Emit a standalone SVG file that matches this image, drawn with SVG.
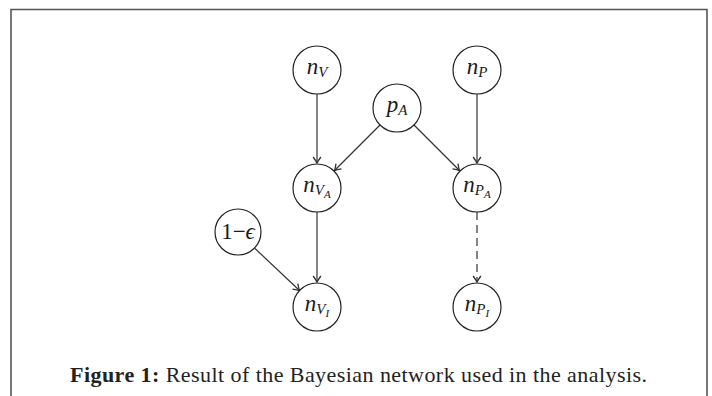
<svg xmlns="http://www.w3.org/2000/svg" width="712" height="396" viewBox="0 0 712 396">
<style>
.node circle{fill:#fff;stroke:#222;stroke-width:1.2}
.lbl{font-family:"Liberation Serif","DejaVu Serif",serif;font-style:italic;font-size:23px;fill:#1a1a1a;text-anchor:middle}
.sub{font-size:15px}
.sub2{font-size:11px}
.up{font-style:normal}
.edge{stroke:#333;stroke-width:1.2;fill:none}
.dash{stroke-dasharray:8 5}
.cap{font-family:"Liberation Serif","DejaVu Serif",serif;font-size:22px;fill:#222;text-anchor:middle}
</style>
<defs>
<marker id="arr" markerUnits="userSpaceOnUse" markerWidth="12" markerHeight="12" viewBox="-7 -5 8 10" refX="0" refY="0" orient="auto">
<path d="M-5,-3.2 Q-1.6,-0.8 0,0 Q-1.6,0.8 -5,3.2" fill="none" stroke="#333" stroke-width="1.1"/>
</marker>
</defs>
<rect width="712" height="396" fill="#fff"/>
<path d="M11,396 V9.5 H707 V396" fill="none" stroke="#555" stroke-width="1.6"/>
<g id="edges">
<line class="edge" x1="317" y1="94" x2="317" y2="163" marker-end="url(#arr)"/>
<line class="edge" x1="477" y1="94" x2="477" y2="163" marker-end="url(#arr)"/>
<line class="edge" x1="380" y1="125" x2="334.5" y2="170.5" marker-end="url(#arr)"/>
<line class="edge" x1="414" y1="125" x2="459.5" y2="170.5" marker-end="url(#arr)"/>
<line class="edge" x1="317" y1="212" x2="317" y2="282" marker-end="url(#arr)"/>
<line class="edge" x1="255" y1="248.5" x2="299.5" y2="290.5" marker-end="url(#arr)"/>
<line class="edge dash" x1="477" y1="212" x2="477" y2="282" marker-end="url(#arr)"/>
</g>
<g id="nV" class="node"><circle cx="317" cy="70" r="24"/><text class="lbl" x="317" y="74">n<tspan class="sub" dy="3">V</tspan></text></g>
<g id="nP" class="node"><circle cx="477" cy="70" r="24"/><text class="lbl" x="477" y="74">n<tspan class="sub" dy="3">P</tspan></text></g>
<g id="pA" class="node"><circle cx="397" cy="108" r="24"/><text class="lbl" x="397" y="112">p<tspan class="sub" dy="3">A</tspan></text></g>
<g id="nVA" class="node"><circle cx="317" cy="188" r="24"/><text class="lbl" x="317" y="192">n<tspan class="sub" dy="3">V</tspan><tspan class="sub2" dy="3">A</tspan></text></g>
<g id="nPA" class="node"><circle cx="477" cy="188" r="24"/><text class="lbl" x="477" y="192">n<tspan class="sub" dy="3">P</tspan><tspan class="sub2" dy="3">A</tspan></text></g>
<g id="eps" class="node"><circle cx="238" cy="232" r="23"/><text class="lbl" x="238" y="239"><tspan class="up">1−</tspan>ϵ</text></g>
<g id="nVI" class="node"><circle cx="317" cy="307" r="24"/><text class="lbl" x="317" y="311">n<tspan class="sub" dy="3">V</tspan><tspan class="sub2" dy="3">I</tspan></text></g>
<g id="nPI" class="node"><circle cx="477" cy="307" r="24"/><text class="lbl" x="477" y="311">n<tspan class="sub" dy="3">P</tspan><tspan class="sub2" dy="3">I</tspan></text></g>
<text class="cap" x="358.5" y="382" textLength="577" lengthAdjust="spacing"><tspan font-weight="bold">Figure 1:</tspan> Result of the Bayesian network used in the analysis.</text>
</svg>
